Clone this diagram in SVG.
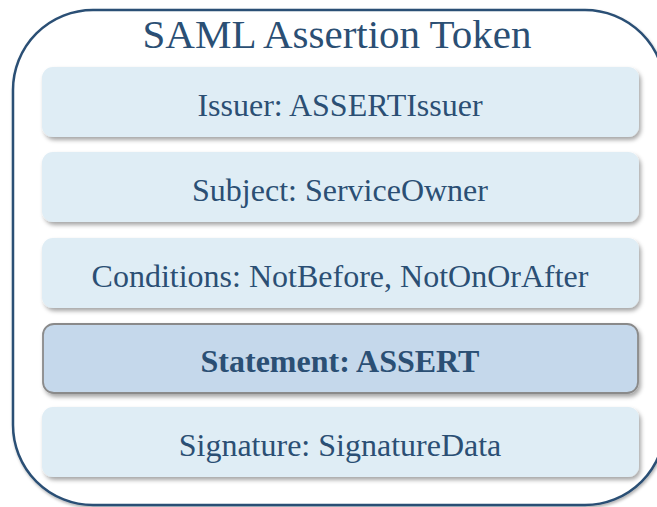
<svg xmlns="http://www.w3.org/2000/svg" width="657" height="507" viewBox="0 0 657 507">
<defs>
<filter id="sh" x="-5%" y="-20%" width="110%" height="150%">
<feDropShadow dx="2" dy="3" stdDeviation="2" flood-color="#000" flood-opacity="0.35"/>
</filter>
<filter id="sh2" x="-5%" y="-5%" width="110%" height="110%">
<feDropShadow dx="1" dy="2" stdDeviation="1.5" flood-color="#000" flood-opacity="0.3"/>
</filter>
</defs>
<style>
.t{font-family:"Liberation Serif","Times New Roman",serif;fill:#2b4f74;text-anchor:middle}
.box{fill:#dfedf5}
.sel{fill:#c5d8eb;stroke:#8a8a8a;stroke-width:1.8}
</style>
<rect width="657" height="507" fill="#fff"/>
<g id="outer">
<rect x="13" y="10" width="652" height="495" rx="80" ry="80" fill="#fff" stroke="#2b4f74" stroke-width="2.5" filter="url(#sh2)"/>
<text class="t" x="337" y="48" font-size="41">SAML Assertion Token</text>
</g>
<g id="issuer">
<rect class="box" x="42" y="67" width="597" height="70" rx="11" filter="url(#sh)"/>
<text class="t" x="340" y="116" font-size="32">Issuer: ASSERTIssuer</text>
</g>
<g id="subject">
<rect class="box" x="42" y="152" width="597" height="70" rx="11" filter="url(#sh)"/>
<text class="t" x="340" y="201" font-size="32">Subject: ServiceOwner</text>
</g>
<g id="conditions">
<rect class="box" x="42" y="238" width="597" height="70" rx="11" filter="url(#sh)"/>
<text class="t" x="340" y="287" font-size="32">Conditions: NotBefore, NotOnOrAfter</text>
</g>
<g id="statement">
<rect class="sel" x="43" y="324" width="595" height="69" rx="11" filter="url(#sh)"/>
<text class="t" x="340" y="372" font-size="32" font-weight="bold">Statement: ASSERT</text>
</g>
<g id="signature">
<rect class="box" x="42" y="407" width="597" height="70" rx="11" filter="url(#sh)"/>
<text class="t" x="340" y="456" font-size="32">Signature: SignatureData</text>
</g>
<g id="connectors"></g>
</svg>
